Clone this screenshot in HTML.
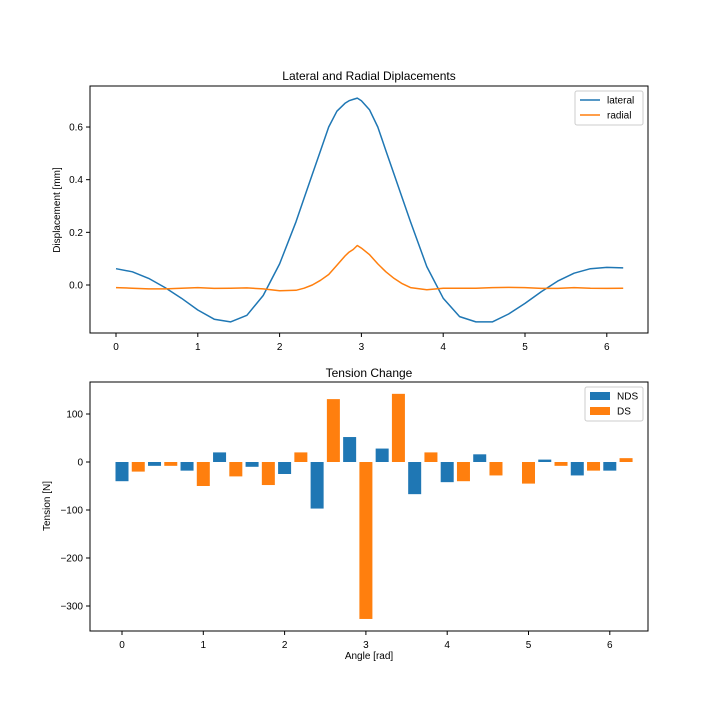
<!DOCTYPE html>
<html><head><meta charset="utf-8"><style>
body{margin:0;background:#fff;}
svg{font-family:"Liberation Sans","DejaVu Sans",sans-serif;}
</style></head><body>
<svg id="c" width="720" height="720" viewBox="0 0 720 720"></svg>
<script>
const latX=[0,0.2,0.4,0.6,0.8,1.0,1.2,1.4,1.6,1.8,2.0,2.2,2.3,2.4,2.5,2.6,2.7,2.8,2.85,2.9,2.95,3.0,3.1,3.2,3.3,3.4,3.5,3.6,3.8,4.0,4.2,4.4,4.6,4.8,5.0,5.2,5.4,5.6,5.8,6.0,6.2];
const latY=[0.062,0.05,0.025,-0.01,-0.05,-0.095,-0.13,-0.14,-0.115,-0.04,0.08,0.24,0.33,0.42,0.51,0.6,0.66,0.69,0.70,0.705,0.71,0.7,0.665,0.6,0.51,0.42,0.33,0.24,0.07,-0.05,-0.12,-0.14,-0.14,-0.11,-0.07,-0.025,0.015,0.045,0.062,0.067,0.065];
const radY=[-0.01,-0.012,-0.015,-0.015,-0.012,-0.01,-0.013,-0.012,-0.011,-0.015,-0.022,-0.02,-0.012,0.0,0.018,0.04,0.075,0.11,0.125,0.135,0.15,0.14,0.115,0.08,0.05,0.025,0.005,-0.01,-0.018,-0.012,-0.012,-0.012,-0.01,-0.009,-0.01,-0.013,-0.013,-0.01,-0.012,-0.013,-0.012];
const ndsX=[0,0.4,0.8,1.2,1.6,2.0,2.4,2.8,3.2,3.6,4.0,4.4,4.8,5.2,5.6,6.0];
const ndsV=[-40,-8,-18,20,-10,-25,-97,52,28,-67,-42,16,0,5,-28,-18];
const dsV=[-20,-8,-50,-30,-48,20,131,-327,142,20,-40,-28,-45,-8,-18,8];
const topXTicks=[0,1,2,3,4,5,6];
const topYTicks=[0,0.2,0.4,0.6];
const botYTicks=[-300,-200,-100,0,100];
const S=document.getElementById('c');
function el(t,a,txt){const e=document.createElementNS('http://www.w3.org/2000/svg',t);for(const k in a)e.setAttribute(k,a[k]);if(txt!==undefined)e.textContent=txt;S.appendChild(e);return e;}
const tx=v=>116+v*81.8, ty=v=>285-v*263.3;
const bx=v=>122+v*81.3, by=v=>462-v*0.48;
function frame(x0,y0,x1,y1,name){const r=el('rect',{x:x0,y:y0,width:x1-x0,height:y1-y0,fill:'none',stroke:'#000','stroke-width':1});
}
function xt(x,y,lab){const l=el('line',{x1:x,x2:x,y1:y,y2:y+4,stroke:'#000'});
const t=el('text',{x:x,y:y+17,'font-size':10,'text-anchor':'middle'},lab);}
function yt(x,y,lab){const l=el('line',{x1:x-4,x2:x,y1:y,y2:y,stroke:'#000'});
const t=el('text',{x:x-7,y:y+3.5,'font-size':10,'text-anchor':'end'},lab);}
function path(xs,ys,col,name){let d='';xs.forEach((x,i)=>{d+=(i?'L':'M')+tx(x).toFixed(1)+','+ty(ys[i]).toFixed(1);});
const p=el('path',{d:d,fill:'none',stroke:col,'stroke-width':1.5,'stroke-linejoin':'round'});}
path(latX,latY,'#1f77b4','lateral-line');
path(latX,radY,'#ff7f0e','radial-line');
frame(90,86,648,333,'top-axes');
topXTicks.forEach(v=>xt(tx(v),333,String(v)));
topYTicks.forEach(v=>yt(90,ty(v),v.toFixed(1)));
let t=el('text',{x:369,y:80,'font-size':12,'text-anchor':'middle'},'Lateral and Radial Diplacements');
t=el('text',{x:60,y:210,'font-size':10,'text-anchor':'middle',transform:'rotate(-90 60 210)'},'Displacement [mm]');
let lg=el('rect',{x:575,y:91,width:68,height:34,fill:'#fff',stroke:'#ccc',rx:2});
[['lateral','#1f77b4',100],['radial','#ff7f0e',115]].forEach(([n,c,y])=>{const l=el('line',{x1:580,x2:600,y1:y,y2:y,stroke:c,'stroke-width':1.5});
const tt=el('text',{x:607,y:y+3.5,'font-size':10},n);});
const bw=0.16*81.3;
ndsX.forEach((x,i)=>{
 [[ndsV[i],0,'#1f77b4','bar-nds'],[dsV[i],0.2,'#ff7f0e','bar-ds']].forEach(([v,o,c,n])=>{
  const cx=bx(x+o),y0=by(0),y1=by(v);
  const r=el('rect',{x:cx-bw/2,y:Math.min(y0,y1),width:bw,height:Math.abs(y1-y0),fill:c});
  });
});
frame(90,382,648,631,'bottom-axes');
topXTicks.forEach(v=>xt(bx(v),631,String(v)));
botYTicks.forEach(v=>yt(90,by(v),v<0?'\u2212'+(-v):String(v)));
t=el('text',{x:369,y:377,'font-size':12,'text-anchor':'middle'},'Tension Change');
t=el('text',{x:369,y:659,'font-size':10,'text-anchor':'middle'},'Angle [rad]');
t=el('text',{x:50,y:506,'font-size':10,'text-anchor':'middle',transform:'rotate(-90 50 506)'},'Tension [N]');
lg=el('rect',{x:585,y:387,width:58,height:34,fill:'#fff',stroke:'#ccc',rx:2});
[['NDS','#1f77b4',396],['DS','#ff7f0e',411]].forEach(([n,c,y])=>{const r=el('rect',{x:590,y:y-4,width:20,height:8,fill:c});
const tt=el('text',{x:617,y:y+3.5,'font-size':10},n);});
</script>
</body></html>
